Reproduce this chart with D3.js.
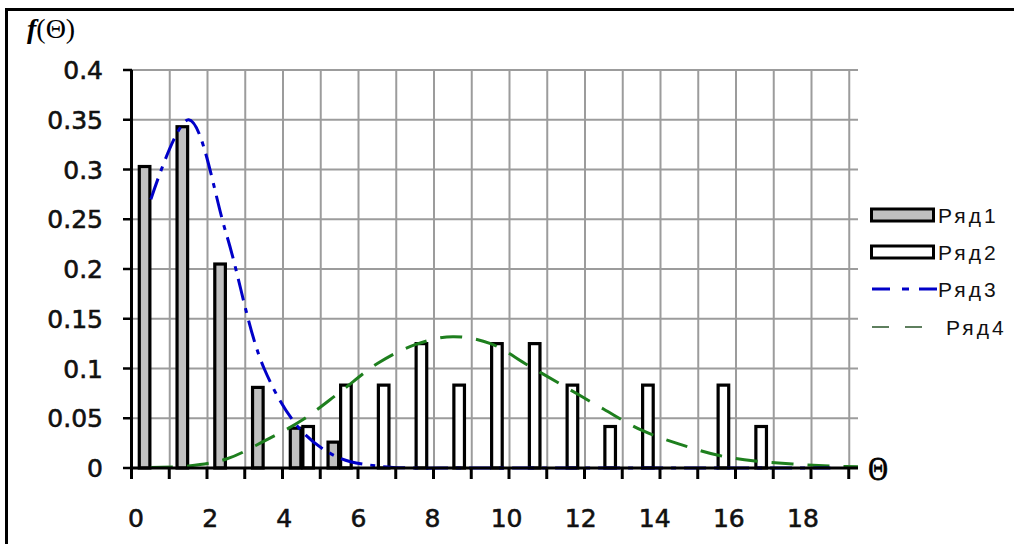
<!DOCTYPE html>
<html>
<head>
<meta charset="utf-8">
<script src="https://cdn.jsdelivr.net/npm/d3@7/dist/d3.min.js"></script>
<style>
  body { margin: 0; background: #fff; }
  svg { display: block; }
</style>
</head>
<body>
<svg id="chart" width="1014" height="544"></svg>
<script>
// categories (Θ) and the four series
let thetaCats = [0, 1, 2, 3, 4, 5, 6, 7, 8, 9, 10, 11, 12, 13, 14, 15, 16, 17, 18, 19];
let ryad1 = [0.303, 0.343, 0.205, 0.081, 0.040, 0.026, 0, 0, 0, 0, 0, 0, 0, 0, 0, 0, 0, 0, 0, 0];
let ryad2 = [0, 0, 0, 0, 0.0417, 0.0833, 0.0833, 0.125, 0.0833, 0.125, 0.125, 0.0833, 0.0417, 0.0833, 0, 0.0833, 0.0417, 0, 0, 0];
let ryad3 = [0.27, 0.35, 0.235, 0.10, 0.037, 0.01, 0.002, 0, 0, 0, 0, 0, 0, 0, 0, 0, 0, 0, 0];
let ryad4 = [0.0004, 0.002, 0.009, 0.027, 0.048, 0.076, 0.105, 0.124, 0.132, 0.125, 0.103, 0.081, 0.059, 0.038, 0.024, 0.013, 0.007, 0.004, 0.002, 0.001];
let xTickLabels = [0, 2, 4, 6, 8, 10, 12, 14, 16, 18];
let yTicks = [0, 0.05, 0.1, 0.15, 0.2, 0.25, 0.3, 0.35, 0.4];
let seriesNames = ['Ряд1', 'Ряд2', 'Ряд3', 'Ряд4'];

let svg = d3.select('#chart');

let plotLeft = 132, plotRight = 858, plotTop = 70, plotBottom = 468;
let step = 37.75;

let x = d3.scaleBand()
    .domain(thetaCats)
    .range([plotLeft, plotLeft + thetaCats.length * step])
    .padding(0);
let xs = d3.scaleBand()
    .domain(['r1', 'r2'])
    .range([0, x.bandwidth()])
    .paddingInner(0)
    .paddingOuter(0.5);
let y = d3.scaleLinear().domain([0, 0.4]).range([plotBottom, plotTop]);
// the category labels sit a little off the band centres in the picture
let xLabel = d3.scaleLinear().domain([0, 18]).range([136, 803]);

// outer frame
svg.append('rect')
    .attr('x', 6.5).attr('y', 9.5)
    .attr('width', 1100).attr('height', 600)
    .attr('fill', 'none').attr('stroke', '#000').attr('stroke-width', 3);

// grid
let grid = svg.append('g').attr('stroke', '#9c9c9c').attr('stroke-width', 2);
grid.selectAll('line.h')
    .data(yTicks.slice(1))
    .enter().append('line')
    .attr('class', 'h')
    .attr('x1', plotLeft).attr('x2', plotRight)
    .attr('y1', d => y(d)).attr('y2', d => y(d));
grid.selectAll('line.v')
    .data(thetaCats.slice(1))
    .enter().append('line')
    .attr('class', 'v')
    .attr('x1', d => x(d)).attr('x2', d => x(d))
    .attr('y1', plotTop).attr('y2', plotBottom);

// bars
let bars = svg.append('g').attr('stroke', '#000').attr('stroke-width', 3.2);
bars.selectAll('rect.r1')
    .data(thetaCats.filter(c => ryad1[c] > 0))
    .enter().append('rect')
    .attr('class', 'r1')
    .attr('x', c => x(c) + xs('r1') + 1)
    .attr('width', xs.bandwidth() - 2)
    .attr('y', c => y(ryad1[c]))
    .attr('height', c => y(0) - y(ryad1[c]))
    .attr('fill', '#c0c0c0');
bars.selectAll('rect.r2')
    .data(thetaCats.filter(c => ryad2[c] > 0))
    .enter().append('rect')
    .attr('class', 'r2')
    .attr('x', c => x(c) + xs('r2') + 1)
    .attr('width', xs.bandwidth() - 2)
    .attr('y', c => y(ryad2[c]))
    .attr('height', c => y(0) - y(ryad2[c]))
    .attr('fill', '#fff');

// smooth lines, clipped to the visible plot
svg.append('clipPath').attr('id', 'plotclip')
  .append('rect')
    .attr('x', plotLeft).attr('y', plotTop - 10)
    .attr('width', plotRight - plotLeft).attr('height', plotBottom - plotTop + 20);

let line = d3.line()
    .x((d, i) => x(thetaCats[i]) + x.bandwidth() / 2)
    .y(d => y(d))
    .curve(d3.curveCatmullRom.alpha(0.5));

let lines = svg.append('g').attr('clip-path', 'url(#plotclip)');
lines.append('path')
    .attr('d', line(ryad4))
    .attr('fill', 'none')
    .attr('stroke', '#1e7f1e')
    .attr('stroke-width', 3)
    .attr('stroke-dasharray', '22,14');
lines.append('path')
    .attr('d', line(ryad3))
    .attr('fill', 'none')
    .attr('stroke', '#0000c8')
    .attr('stroke-width', 3)
    .attr('stroke-dasharray', '22,8,5,8');

// axes
svg.append('line')
    .attr('x1', plotLeft - 0.5).attr('x2', plotLeft - 0.5)
    .attr('y1', plotTop).attr('y2', plotBottom + 1)
    .attr('stroke', '#000').attr('stroke-width', 3);
svg.append('line')
    .attr('x1', plotLeft - 2).attr('x2', plotRight)
    .attr('y1', plotBottom).attr('y2', plotBottom)
    .attr('stroke', '#000').attr('stroke-width', 3);

svg.append('g').selectAll('line')
    .data(yTicks)
    .enter().append('line')
    .attr('x1', plotLeft - 9).attr('x2', plotLeft)
    .attr('y1', d => y(d)).attr('y2', d => y(d))
    .attr('stroke', '#000').attr('stroke-width', 2.5);
svg.append('g').selectAll('line')
    .data(thetaCats)
    .enter().append('line')
    .attr('x1', d => x(d) - 0.5).attr('x2', d => x(d) - 0.5)
    .attr('y1', plotBottom).attr('y2', plotBottom + 11)
    .attr('stroke', '#000').attr('stroke-width', 3);

svg.append('g').selectAll('text')
    .data(yTicks)
    .enter().append('text')
    .attr('x', 103)
    .attr('y', d => y(d))
    .attr('dy', '0.36em')
    .attr('text-anchor', 'end')
    .attr('font-family', 'DejaVu Sans')
    .attr('font-size', 25)
    .attr('fill', '#111')
    .attr('stroke', '#111').attr('stroke-width', 0.6)
    .text(d => String(d));

svg.append('g').selectAll('text')
    .data(xTickLabels)
    .enter().append('text')
    .attr('x', d => xLabel(d))
    .attr('y', 527)
    .attr('text-anchor', 'middle')
    .attr('font-family', 'DejaVu Sans')
    .attr('font-size', 25)
    .attr('fill', '#111')
    .attr('stroke', '#111').attr('stroke-width', 0.6)
    .text(d => d);

// axis titles
let ttl = svg.append('text')
    .attr('x', 27).attr('y', 38)
    .attr('font-family', 'Liberation Serif')
    .attr('font-weight', 'bold')
    .attr('font-size', 28);
ttl.append('tspan').attr('font-style', 'italic').text('f');
ttl.append('tspan').attr('font-weight', 'normal').text('(Θ)');

svg.append('text')
    .attr('transform', 'translate(878,480) scale(0.8,1)')
    .attr('text-anchor', 'middle')
    .attr('font-family', 'Liberation Serif')
    .attr('font-size', 34)
    .attr('stroke', '#000').attr('stroke-width', 0.8)
    .text('Θ');

// legend
let legend = svg.append('g');
let rowsY = [215, 252, 289, 327];
let items = legend.selectAll('g')
    .data(seriesNames)
    .enter().append('g')
    .attr('transform', (d, i) => 'translate(0,' + rowsY[i] + ')');
items.filter((d, i) => i < 2).append('rect')
    .attr('x', 871.5).attr('y', -6)
    .attr('width', 62).attr('height', 12)
    .attr('fill', (d, i) => i === 0 ? '#c0c0c0' : '#fff')
    .attr('stroke', '#000').attr('stroke-width', 3);
items.filter((d, i) => i === 2).append('line')
    .attr('x1', 872).attr('x2', 937)
    .attr('stroke', '#0000c8').attr('stroke-width', 3)
    .attr('stroke-dasharray', '18,12,7,10');
items.filter((d, i) => i === 3).append('line')
    .attr('x1', 872).attr('x2', 928)
    .attr('stroke', '#5e7f5e').attr('stroke-width', 2)
    .attr('stroke-dasharray', '17,16');
items.append('text')
    .attr('x', (d, i) => i === 3 ? 946 : 938)
    .attr('y', 0)
    .attr('dy', '0.36em')
    .attr('font-family', 'Liberation Sans')
    .attr('font-size', 21)
    .attr('letter-spacing', 3)
    .attr('fill', '#111')
    .text(d => d);
</script>
</body>
</html>
